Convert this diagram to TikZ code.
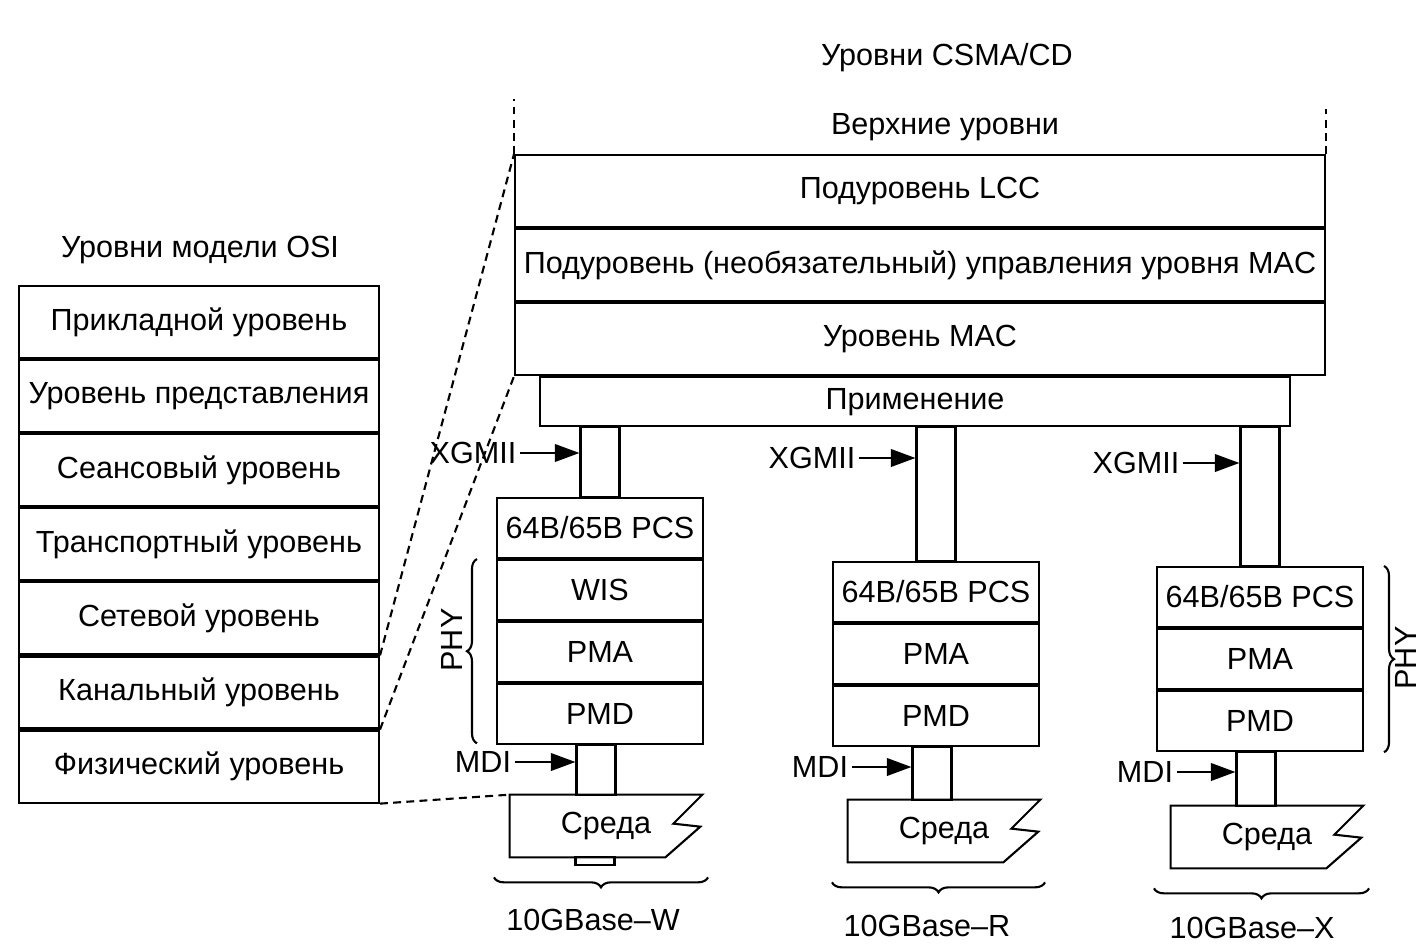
\documentclass[tikz,border=0pt]{standalone}
\usepackage{fontspec}
\setmainfont{Liberation Sans}
\usetikzlibrary{arrows.meta, positioning, fit, calc, decorations.pathreplacing}

\begin{document}
\begin{tikzpicture}[x=0.02cm, y=-0.02cm,
    every node/.style={font=\fontsize{17.4}{20}\selectfont, inner sep=2pt},
    osi/.style={rectangle, draw=black, line width=1.2pt, minimum width=7.2cm, minimum height=1.44cm, align=center, inner sep=0pt},
    mac/.style={rectangle, draw=black, line width=1.2pt, minimum width=16.2cm, minimum height=1.44cm, align=center, inner sep=0pt},
    phy/.style={rectangle, draw=black, line width=1.2pt, minimum width=4.12cm, minimum height=1.2cm, align=center, inner sep=0pt},
    pillar/.style={rectangle, draw=black, line width=1.2pt, minimum width=0.78cm, inner sep=0pt},
    medtext/.style={rectangle, minimum width=3.84cm, minimum height=1.24cm, inner sep=0pt},
    outline/.style={draw=black, line width=1.2pt},
    line/.style={draw=black, line width=1.2pt, -{Triangle[length=14pt, width=10pt]}},
    dashline/.style={draw=black, line width=1.2pt, dash pattern=on 4.5pt off 3pt},
    brace/.style={draw=black, line width=1.2pt, decorate, decoration={brace, amplitude=0.2cm}}
]
    \useasboundingbox (0,0) rectangle (1424,946);

    % OSI Layers
    \node (osiTitle) at (200,250) {Уровни модели OSI};
    \node[osi] (appl)  at (199,322) {Прикладной уровень};
    \node[osi, below=0pt of appl]  (pres)  {Уровень представления};
    \node[osi, below=0pt of pres]  (sess)  {Сеансовый уровень};
    \node[osi, below=0pt of sess]  (trans) {Транспортный уровень};
    \node[osi, below=0pt of trans] (netw)  {Сетевой уровень};
    \node[osi, below=0pt of netw]  (link)  {Канальный уровень};
    \node[osi, below=0pt of link]  (phys)  {Физический уровень};

    % CSMA/CD Layers
    \node (csma)  at (947,58)  {Уровни CSMA/CD};
    \node (upper) at (945,127) {Верхние уровни};
    \node[mac] (llc) at (920,191) {Подуровень LCC};
    \node[mac, below=0pt of llc]    (macctl)   {Подуровень (необязательный) управления уровня MAC};
    \node[mac, below=0pt of macctl] (maclayer) {Уровень MAC};
    \node[rectangle, draw=black, line width=1.2pt, minimum width=15cm, minimum height=0.98cm, inner sep=0pt,
          below=0pt of maclayer, xshift=-0.1cm] (impl) {Применение};

    % PHY Stacks
    \node[phy] (wPCS) at (600,528) {64B/65B PCS};
    \node[phy, below=0pt of wPCS] (wWIS) {WIS};
    \node[phy, below=0pt of wWIS] (wPMA) {PMA};
    \node[phy, below=0pt of wPMA] (wPMD) {PMD};

    \node[phy] (rPCS) at (936,592) {64B/65B PCS};
    \node[phy, below=0pt of rPCS] (rPMA) {PMA};
    \node[phy, below=0pt of rPMA] (rPMD) {PMD};

    \node[phy] (xPCS) at (1260,597) {64B/65B PCS};
    \node[phy, below=0pt of xPCS] (xPMA) {PMA};
    \node[phy, below=0pt of xPMA] (xPMD) {PMD};

    % Media
    \node[medtext] (wMed) at (606,826)  {Среда};
    \node[medtext] (rMed) at (944,831)  {Среда};
    \node[medtext] (xMed) at (1267,837) {Среда};
    \draw[outline] (wMed.north west) -- (wMed.north east) -- ++(-29,29) -- ++(27,3) -- ([xshift=-0.74cm]wMed.south east) -- (wMed.south west) -- cycle;
    \draw[outline] (rMed.north west) -- (rMed.north east) -- ++(-29,29) -- ++(27,3) -- ([xshift=-0.74cm]rMed.south east) -- (rMed.south west) -- cycle;
    \draw[outline] (xMed.north west) -- (xMed.north east) -- ++(-29,29) -- ++(27,3) -- ([xshift=-0.74cm]xMed.south east) -- (xMed.south west) -- cycle;

    % Pillars
    \node[pillar, fit=(wPCS.north) (impl.south -| wPCS.north)] (wUp) {};
    \node[pillar, fit=(rPCS.north) (impl.south -| rPCS.north)] (rUp) {};
    \node[pillar, fit=(xPCS.north) (impl.south -| xPCS.north)] (xUp) {};
    \node[pillar, fit=(wPMD.south) (wMed.north -| wPMD.south), xshift=-0.08cm] (wLow) {};
    \node[pillar, fit=(rPMD.south) (rMed.north -| rPMD.south), xshift=-0.08cm] (rLow) {};
    \node[pillar, fit=(xPMD.south) (xMed.north -| xPMD.south), xshift=-0.08cm] (xLow) {};
    \draw[outline] (wMed.south -| wLow.west) rectangle ++(0.78cm,-0.16cm);

    % Interfaces
    \node (wXg) at (473,453)  {XGMII};
    \node (rXg) at (812,458)  {XGMII};
    \node (xXg) at (1136,463) {XGMII};
    \draw[line] (wXg.east) -- (wXg.east -| wUp.west);
    \draw[line] (rXg.east) -- (rXg.east -| rUp.west);
    \draw[line] (xXg.east) -- (xXg.east -| xUp.west);

    \node (wMdi) at (483,762)  {MDI};
    \node (rMdi) at (820,767)  {MDI};
    \node (xMdi) at (1145,772) {MDI};
    \draw[line] (wMdi.east) -- (wMdi.east -| wLow.west);
    \draw[line] (rMdi.east) -- (rMdi.east -| rLow.west);
    \draw[line] (xMdi.east) -- (xMdi.east -| xLow.west);

    % PHY braces
    \draw[brace] ($(wPMD.south west)+(-19,-2)$) -- ($(wWIS.north west)+(-19,0)$);
    \node[rotate=90] (wPhy) at (452,640) {PHY};
    \draw[brace] ($(xPCS.north east)+(20,0)$) -- ($(xPMD.south east)+(20,0)$);
    \node[rotate=90] (xPhy) at (1406,658) {PHY};

    % Variants
    \draw[brace] ($(wMed.south -| wPCS.east)+(4,20)$) -- ($(wMed.south -| wPCS.west)+(-2,20)$);
    \draw[brace] ($(rMed.south -| rPCS.east)+(5,20)$) -- ($(rMed.south -| rPCS.west)+(0,20)$);
    \draw[brace] ($(xMed.south -| xPCS.east)+(5,20)$) -- ($(xMed.south -| xPCS.west)+(-2,20)$);
    \node (wName) at (593,920)  {10GBase–W};
    \node (rName) at (927,926)  {10GBase–R};
    \node (xName) at (1252,928) {10GBase–X};

    % Dashed correspondence
    \draw[dashline] (link.north east) -- (llc.north west);
    \draw[dashline] (link.south east) -- (maclayer.south west);
    \draw[dashline] (phys.south east) -- (wMed.north west);
    \draw[dashline] (llc.north west) -- ++(0,-55);
    \draw[dashline] (llc.north east) -- ++(0,-45);
\end{tikzpicture}
\end{document}
